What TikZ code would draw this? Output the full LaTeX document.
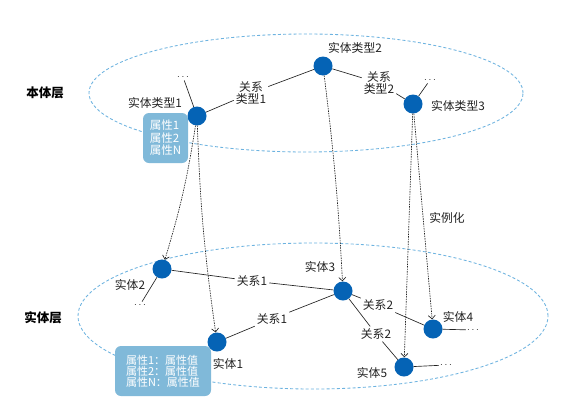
\documentclass[tikz,border=0pt]{standalone}
\usepackage{fontspec}
\setmainfont{Noto Sans CJK SC}
\usetikzlibrary{arrows.meta}
\definecolor{nodeblue}{HTML}{0563B5}
\definecolor{attrblue}{HTML}{80B9D9}
\definecolor{ellblue}{HTML}{6DB3E0}
\definecolor{txt}{HTML}{222222}
\begin{document}
\begin{tikzpicture}[x=1pt,y=-1pt,
  ent/.style={circle,fill=nodeblue,minimum size=19pt,inner sep=0pt},
  lbl/.style={font=\fontsize{11.8}{12.5}\selectfont,inner sep=1pt,text=txt},
  rel/.style={lbl,align=center,inner sep=2pt},
  dotsn/.style={inner sep=1pt,text=txt,font=\fontsize{10}{10}\selectfont},
  link/.style={draw=txt,line width=0.65pt},
  inst/.style={draw=txt,line width=0.65pt,dash pattern=on 1.5pt off 1pt,
    -{Straight Barb[length=3.5pt,width=7pt]}},
  layer/.style={draw=ellblue,line width=0.85pt,dash pattern=on 3pt off 2.2pt},
  layername/.style={font=\fontsize{12.5}{13}\selectfont\bfseries,text=black},
  attr/.style={fill=attrblue,rounded corners=6pt,text=white,align=left,
    inner sep=0pt}
]
\useasboundingbox (0,0) rectangle (585,410);
\fill[white] (0,0) rectangle (585,410);

% layers
\draw[layer] (306,93) ellipse [x radius=217pt, y radius=59pt];
\draw[layer] (313,316) ellipse [x radius=235pt, y radius=73pt];
\node[layername] (ln1) at (45,93) {本体层};
\node[layername] (ln2) at (43,318) {实体层};

% ontology layer
\node[ent] (t1) at (197,116) {};
\node[ent] (t2) at (323,66) {};
\node[ent] (t3) at (413,104) {};
\node[lbl] (lt1) at (155,103) {实体类型1};
\node[lbl] (lt2) at (355,48) {实体类型2};
\node[lbl] (lt3) at (458,106) {实体类型3};
\node[dotsn] (d1) at (183,77) {$\cdots$};
\node[dotsn] (d2) at (430,80) {$\cdots$};
\node[rel] (r1) at (251,93) {关系\\类型1};
\node[rel] (r2) at (379,83) {关系\\类型2};
\node[attr,minimum width=45pt,minimum height=50pt,
  font=\fontsize{11.5}{12.5}\selectfont] (a1) at (165.5,138) {属性1\\属性2\\属性N};
\draw[link] (t1) -- (d1);
\draw[link] (t3) -- (d2);
\draw[link] (t1) -- (r1);
\draw[link] (r1) -- (t2);
\draw[link] (t2) -- (r2);
\draw[link] (r2) -- (t3);

% entity layer
\node[ent] (e2) at (162,269) {};
\node[ent] (e1) at (217,342) {};
\node[ent] (e3) at (343,291) {};
\node[ent] (e4) at (433,329) {};
\node[ent] (e5) at (404,367) {};
\node[lbl] (le2) at (130,285) {实体2};
\node[lbl] (le1) at (228,364) {实体1};
\node[lbl] (le3) at (320,267) {实体3};
\node[lbl] (le4) at (458,317) {实体4};
\node[lbl] (le5) at (372,373) {实体5};
\node[dotsn] (d3) at (140,305) {$\cdots$};
\node[dotsn] (d4) at (473,330) {$\cdots$};
\node[dotsn] (d5) at (446,365) {$\cdots$};
\node[rel] (ra) at (252,281) {关系1};
\node[rel] (rb) at (272,319) {关系1};
\node[rel] (rc) at (378,305) {关系2};
\node[rel] (rd) at (376,334) {关系2};
\node[attr,minimum width=96pt,minimum height=50pt,
  font=\fontsize{11}{11}\selectfont] (a2) at (163,371) {属性1：属性值\\属性2：属性值\\属性N：属性值};
\draw[link] (e2) -- (d3);
\draw[link] (e4) -- (d4);
\draw[link] (e5) -- (d5);
\draw[link] (e2) -- (ra);
\draw[link] (ra) -- (e3);
\draw[link] (e1) -- (rb);
\draw[link] (rb) -- (e3);
\draw[link] (e3) -- (rc);
\draw[link] (rc) -- (e4);
\draw[link] (e3) -- (rd);
\draw[link] (rd) -- (e5);

% instantiation
\draw[inst] (t1) to[bend left=4] (e2);
\draw[inst] (t1) to[bend right=3] (e1);
\draw[inst] (t2) to[bend left=2] (e3);
\draw[inst] (t3) -- (e5);
\draw[inst] (t3) -- (e4);
\node[lbl] (inst) at (447,218) {实例化};
\end{tikzpicture}
\end{document}
